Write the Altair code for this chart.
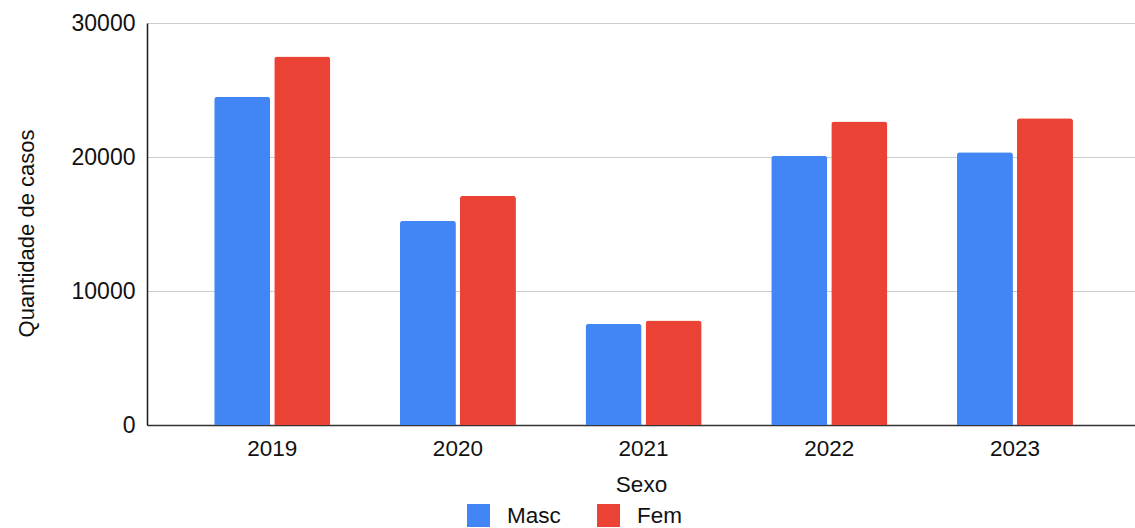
import altair as alt
import pandas as pd

# Cases per year, split by sex
years = ["2019", "2020", "2021", "2022", "2023"]
masc = [24500, 15250, 7550, 20100, 20350]
fem = [27500, 17100, 7800, 22650, 22900]
sexes = ["Masc", "Fem"]
colors = ["#4285F4", "#EA4335"]

rows = []
for i, y in enumerate(years):
    rows.append({"Ano": y, "Sexo": "Masc", "Casos": masc[i]})
    rows.append({"Ano": y, "Sexo": "Fem", "Casos": fem[i]})
df = pd.DataFrame(rows)

FONT = "Liberation Sans"
TXT = "#111111"

chart = (
    alt.Chart(df)
    .mark_bar(cornerRadiusTopLeft=3, cornerRadiusTopRight=3)
    .encode(
        x=alt.X(
            "Ano:N",
            sort=years,
            scale=alt.Scale(paddingInner=0.375, paddingOuter=0.348, align=0.52),
            axis=alt.Axis(
                title="Sexo",
                labelAngle=0,
                labelFontSize=22.5,
                labelPadding=12,
                labelColor=TXT,
                labelFont=FONT,
                ticks=False,
                tickSize=0,
                domainColor="#333333",
                domainWidth=1.3,
                titleFontSize=22.5,
                titleFont=FONT,
                titleFontWeight="normal",
                titleColor=TXT,
                titleBaseline="alphabetic",
                titleY=66,
                grid=False,
            ),
        ),
        xOffset=alt.XOffset(
            "Sexo:N",
            sort=sexes,
            scale=alt.Scale(domain=sexes, paddingInner=0.067, paddingOuter=0),
        ),
        y=alt.Y(
            "Casos:Q",
            scale=alt.Scale(domain=[0, 30000], nice=False),
            axis=alt.Axis(
                title="Quantidade de casos",
                values=[0, 10000, 20000, 30000],
                format="d",
                labelFontSize=23,
                labelPadding=12,
                labelColor=TXT,
                labelFont=FONT,
                ticks=False,
                tickSize=0,
                domainColor="#1a1a1a",
                domainWidth=1.5,
                gridColor="#cccccc",
                gridWidth=1.2,
                titleFontSize=22,
                titleFont=FONT,
                titleFontWeight="normal",
                titleColor=TXT,
                titleAngle=-90,
                titleAlign="center",
                titleBaseline="alphabetic",
                titleX=-114,
                titleY=210,
            ),
        ),
        color=alt.Color(
            "Sexo:N",
            sort=sexes,
            scale=alt.Scale(domain=sexes, range=colors),
            legend=alt.Legend(
                title=None,
                orient="none",
                legendX=320,
                legendY=481,
                direction="horizontal",
                symbolType="square",
                symbolSize=529,
                symbolStrokeWidth=0,
                symbolOpacity=1,
                labelFontSize=22.5,
                labelFont=FONT,
                labelColor=TXT,
                labelOffset=17,
                columnPadding=36,
                padding=0,
            ),
        ),
    )
    .properties(
        width=988,
        height=402,
        autosize=alt.AutoSizeParams(type="none"),
        padding={"left": 147, "top": 23, "right": 0, "bottom": 103},
    )
    .configure_view(stroke=None)
    .configure(background="white")
)

chart.save("out.html", embed_options={"renderer": "svg", "actions": False})
